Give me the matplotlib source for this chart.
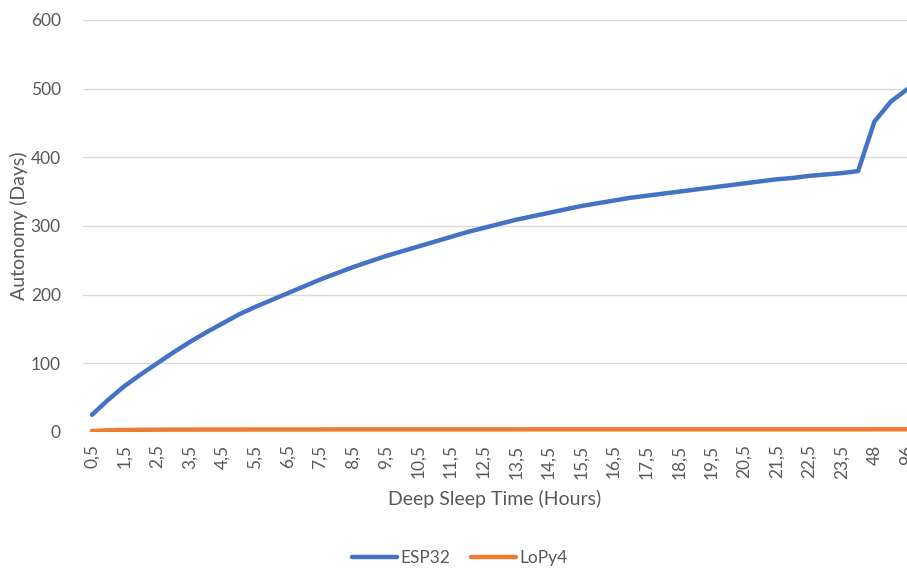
import matplotlib.pyplot as plt

plt.rcParams["font.family"] = ["Lato", "DejaVu Sans"]

# deep sleep time categories (hours, decimal comma as in the source)
hours = [f"{h // 2},5" if h % 2 else str(h // 2) for h in range(1, 49)] + ["48", "72", "96"]

# autonomy in days
esp32 = [25, 47, 67, 84, 100, 116, 131, 145, 158, 171,
         182, 192, 202, 212, 222, 231, 240, 248, 256, 263,
         270, 277, 284, 291, 297, 303, 309, 314, 319, 324,
         329, 333, 337, 341, 344, 347, 350, 353, 356, 359,
         362, 365, 368, 370, 373, 375, 377, 380, 452, 481,
         499]
lopy4 = [1.5, 2.5, 3, 3.2, 3.4, 3.5, 3.5, 3.6, 3.6, 3.6,
         3.7, 3.7, 3.7, 3.7, 3.7, 3.8, 3.8, 3.8, 3.8, 3.8,
         3.8, 3.8, 3.8, 3.8, 3.8, 3.8, 3.8, 3.9, 3.9, 3.9,
         3.9, 3.9, 3.9, 3.9, 3.9, 3.9, 3.9, 3.9, 3.9, 3.9,
         3.9, 3.9, 3.9, 3.9, 3.9, 3.9, 3.9, 3.9, 4.0, 4.0,
         4.0]

GREY = "#595959"

fig = plt.figure(figsize=(9.07, 5.68), dpi=100)
ax = fig.add_axes([83 / 907, 1 - 432 / 568, 1 - 83 / 907, (432 - 20) / 568])

x = list(range(len(hours)))
ax.plot(x, esp32, color="#4472C4", lw=3.2, label="ESP32", solid_capstyle="round")
ax.plot(x, lopy4, color="#ED7D31", lw=3.2, label="LoPy4", solid_capstyle="round")

ax.set_xlim(-0.55, 50.0)
ax.set_ylim(0, 600)
ax.set_yticks(range(0, 601, 100))
ax.set_xticks(x[::2])
ax.set_xticklabels(hours[::2], rotation=90)
ax.tick_params(axis="both", length=0, colors=GREY, labelsize=12.5)
ax.tick_params(axis="y", pad=16)
ax.tick_params(axis="x", pad=9)

ax.grid(axis="y", color="#d9d9d9", lw=1)
ax.set_axisbelow(True)
for s in ax.spines.values():
    s.set_visible(False)

ax.set_xlabel("Deep Sleep Time (Hours)", color=GREY, fontsize=14, labelpad=8)
ax.set_ylabel("Autonomy (Days)", color=GREY, fontsize=14, labelpad=2)

fig.legend(loc="center", bbox_to_anchor=(460 / 907, 1 - 558 / 568), ncol=2,
           frameon=False, fontsize=12.5, handlelength=2.6, columnspacing=1.2,
           handletextpad=0.2, labelcolor=GREY)

fig.savefig("out.png", dpi=100)
